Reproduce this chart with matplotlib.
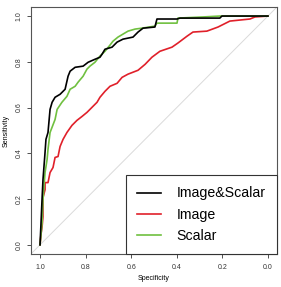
import matplotlib
matplotlib.use("Agg")
import matplotlib.pyplot as plt

# Image&Scalar (black)
spec_both = [1.000, 0.996, 0.991, 0.987, 0.978, 0.974, 0.965, 0.956, 0.947, 0.934, 0.912, 0.890,
             0.882, 0.877, 0.868, 0.846, 0.811, 0.789, 0.759, 0.737, 0.728, 0.715, 0.684, 0.662,
             0.636, 0.592, 0.570, 0.548, 0.496, 0.487, 0.399, 0.386, 0.211, 0.202, 0.000]
sens_both = [0.000, 0.088, 0.202, 0.285, 0.404, 0.461, 0.491, 0.592, 0.623, 0.645, 0.658, 0.680,
             0.715, 0.737, 0.759, 0.776, 0.781, 0.798, 0.811, 0.820, 0.833, 0.855, 0.864, 0.886,
             0.899, 0.908, 0.930, 0.947, 0.952, 0.987, 0.987, 0.991, 0.991, 1.000, 1.000]

# Image (red)
spec_img = [1.000, 0.996, 0.991, 0.987, 0.987, 0.978, 0.978, 0.965, 0.956, 0.943, 0.934, 0.921,
            0.912, 0.899, 0.882, 0.860, 0.838, 0.816, 0.794, 0.772, 0.750, 0.737, 0.715, 0.693,
            0.662, 0.640, 0.614, 0.570, 0.539, 0.509, 0.474, 0.421, 0.395, 0.355, 0.329, 0.268,
            0.219, 0.167, 0.079, 0.057, 0.000]
sens_img = [0.000, 0.044, 0.079, 0.123, 0.206, 0.241, 0.272, 0.272, 0.316, 0.338, 0.382, 0.386,
            0.430, 0.461, 0.491, 0.522, 0.544, 0.561, 0.579, 0.601, 0.623, 0.645, 0.671, 0.693,
            0.706, 0.732, 0.746, 0.763, 0.789, 0.820, 0.846, 0.864, 0.882, 0.912, 0.930, 0.934,
            0.952, 0.978, 0.987, 0.996, 1.000]

# Scalar (green)
spec_sca = [1.000, 0.991, 0.987, 0.978, 0.969, 0.965, 0.956, 0.934, 0.925, 0.904, 0.882, 0.868,
            0.846, 0.833, 0.811, 0.794, 0.781, 0.759, 0.737, 0.715, 0.693, 0.680, 0.658, 0.636,
            0.614, 0.583, 0.553, 0.496, 0.487, 0.399, 0.395, 0.285, 0.211, 0.000]
sens_sca = [0.000, 0.096, 0.197, 0.316, 0.373, 0.417, 0.491, 0.548, 0.592, 0.623, 0.649, 0.680,
            0.693, 0.711, 0.737, 0.768, 0.781, 0.798, 0.825, 0.846, 0.873, 0.890, 0.908, 0.921,
            0.934, 0.943, 0.947, 0.956, 0.969, 0.969, 0.991, 0.996, 1.000, 1.000]

labels = ["Image&Scalar", "Image", "Scalar"]
ticks = [1.0, 0.8, 0.6, 0.4, 0.2, 0.0]
tick_labels = ["1.0", "0.8", "0.6", "0.4", "0.2", "0.0"]

plt.rcParams['font.family'] = ['Liberation Sans', 'DejaVu Sans']

fig = plt.figure(figsize=(2.81, 2.87), dpi=100)
ax = fig.add_axes([0.110, 0.115, 0.876, 0.861])

ax.axline((1, 0), (0, 1), color="#dadada", lw=0.7, zorder=1)
ax.plot(spec_both, sens_both, color="black", lw=1.2, label=labels[0], zorder=3)
ax.plot(spec_img, sens_img, color="#e0202a", lw=1.2, label=labels[1], zorder=2)
ax.plot(spec_sca, sens_sca, color="#70c040", lw=1.2, label=labels[2], zorder=2.5)

ax.set_xlim(1.04, -0.04)
ax.set_ylim(-0.04, 1.04)
ax.set_xticks(ticks)
ax.set_xticklabels(tick_labels)
ax.set_yticks(ticks)
ax.set_yticklabels(tick_labels, rotation=90, va="center")
ax.tick_params(axis="x", labelsize=5, length=3, width=0.6, pad=4, colors="#333333")
ax.tick_params(axis="y", labelsize=5, length=3, width=0.6, pad=3, colors="#333333")
for s in ax.spines.values():
    s.set_color("#555555")
    s.set_linewidth(0.8)
ax.set_xlabel("Specificity", fontsize=5, labelpad=3)
ax.set_ylabel("Sensitivity", fontsize=5, labelpad=4)

leg = ax.legend(loc="lower right", fontsize=10.2, frameon=True, fancybox=False,
                edgecolor="#333333", framealpha=1, borderaxespad=0,
                handlelength=1.7, handletextpad=1.1, labelspacing=0.5, borderpad=0.8)
leg.get_frame().set_linewidth(0.8)

fig.savefig("out.png", dpi=100)
